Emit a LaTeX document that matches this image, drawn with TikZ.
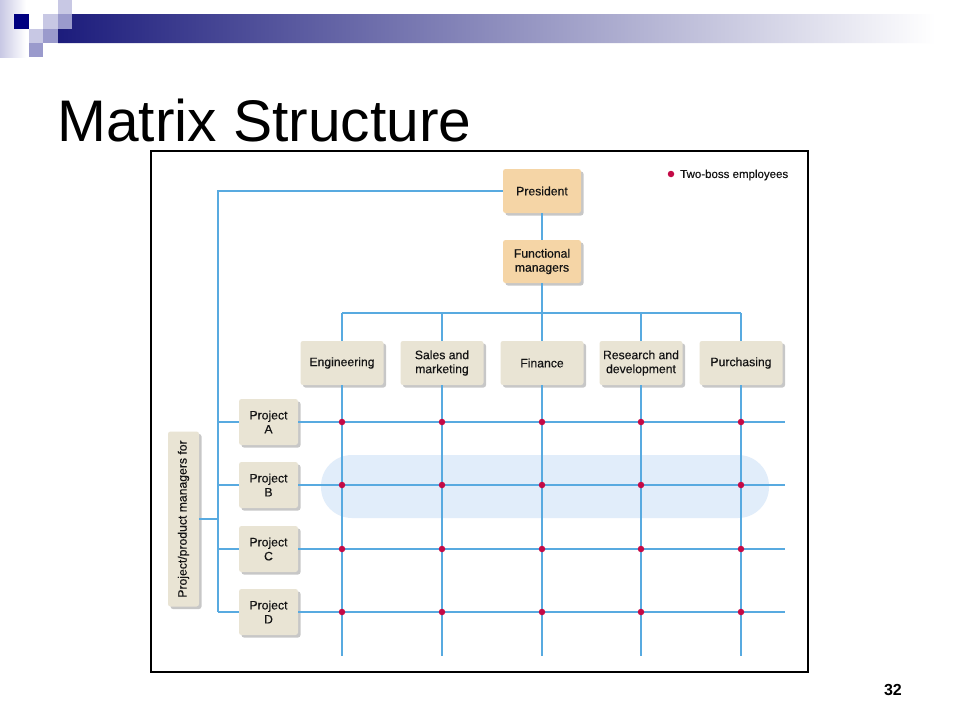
\documentclass[tikz,border=0pt]{standalone}
\usepackage{fontspec}
\setmainfont{Liberation Sans}
\newfontfamily\boxfont[FakeBold=0.35]{Liberation Sans}
\usetikzlibrary{shadows}
\definecolor{linec}{RGB}{88,170,224}
\definecolor{dotc}{RGB}{196,10,70}
\definecolor{beige}{RGB}{233,228,212}
\definecolor{peach}{RGB}{245,213,166}
\definecolor{bandc}{RGB}{225,237,250}
\definecolor{navy}{RGB}{0,0,128}
\definecolor{lavl}{RGB}{200,200,228}
\definecolor{lavm}{RGB}{154,154,204}
\definecolor{barl}{RGB}{28,28,124}
\definecolor{barm}{RGB}{165,165,188}
\definecolor{txt}{RGB}{20,20,20}
\tikzset{
  box/.style={rectangle, rounded corners=2.5pt, fill=beige, text=txt, align=center,
    inner sep=1pt, font=\boxfont\fontsize{12.2}{14}\selectfont,
    drop shadow={shadow xshift=2.5pt, shadow yshift=-2.5pt, fill=black, opacity=0.22}},
  funcbox/.style={box, minimum width=83pt, minimum height=44pt},
  projbox/.style={box, minimum width=59pt, minimum height=46pt},
  topbox/.style={box, fill=peach, minimum width=78pt, minimum height=44pt},
  wire/.style={draw=linec, line width=1.4pt},
  twoboss/.style={circle, fill=dotc, inner sep=0pt, minimum size=6.5pt},
}
\begin{document}
\begin{tikzpicture}[x=1pt,y=-1pt]
\useasboundingbox (0,0) rectangle (960,720);
\fill[white] (0,0) rectangle (960,720);
% top decoration
\shade[left color=lavl, right color=white] (0,0) rectangle (26,57);
\shade[left color=barl, middle color=barm, right color=white]
  (72,14) -- (935,14) -- (935,43) -- (58,43) -- (58,29) -- (72,29) -- cycle;
\fill[navy] (14,14) rectangle (29,29);
\fill[lavl] (58,0) rectangle (72,14);
\fill[lavl] (43,14) rectangle (58,29);
\fill[lavl] (29,29) rectangle (43,43);
\fill[lavm] (58,14) rectangle (72,29);
\fill[lavm] (43,29) rectangle (58,43);
\fill[lavm] (29,43) rectangle (43,57);
% title
\node[anchor=base west, inner sep=0pt, font=\fontsize{58.7}{60}\selectfont] (title) at (57,141) {Matrix Structure};
% page number
\node[anchor=base east, inner sep=0pt, font=\fontsize{16}{18}\selectfont\bfseries] (pagenum) at (902,695) {32};
% frame
\draw[black, line width=1.2pt] (151,151) rectangle (808,672);
% highlight band
\fill[bandc, rounded corners=31pt] (321,455) rectangle (769,518);
% nodes
\node[topbox] (pres) at (542,191) {President};
\node[topbox, minimum height=43pt] (fm) at (542,261.5) {Functional\\managers};
\node[funcbox] (eng) at (342,363) {Engineering};
\node[funcbox] (sal) at (442,363) {Sales and\\marketing};
\node[funcbox] (fin) at (542,363) {Finance};
\node[funcbox] (rnd) at (641,363) {Research and\\development};
\node[funcbox] (pur) at (741,363) {Purchasing};
\node[projbox] (pa) at (268.5,422) {Project\\A};
\node[projbox] (pb) at (268.5,485) {Project\\B};
\node[projbox] (pc) at (268.5,549) {Project\\C};
\node[projbox] (pd) at (268.5,612) {Project\\D};
\node[box, minimum width=31pt, minimum height=175pt] (pm) at (183.5,519) {\rotatebox{90}{Project/product managers for}};
% coordinates
\coordinate (bustop) at (218,191);
\coordinate (busbot) at (218,612);
\coordinate (hbusl) at (342,313);
\coordinate (hbusr) at (741,313);
\coordinate (fmbus) at (542,313);
\coordinate (pmj) at (218,519);
\foreach \c/\x in {eng/342,sal/442,fin/542,rnd/641,pur/741}{
  \coordinate (\c top) at (\x,313);
  \coordinate (\c end) at (\x,656);
}
\foreach \p/\y in {pa/422,pb/485,pc/549,pd/612}{
  \coordinate (\p l) at (218,\y);
  \coordinate (\p r) at (785,\y);
}
% wires
\draw[wire] (pres.west) -- (bustop) -- (busbot);
\draw[wire] (pres.south) -- (fm.north);
\draw[wire] (fm.south) -- (fmbus);
\draw[wire] (hbusl) -- (hbusr);
\draw[wire] (pm.east) -- (pmj);
\foreach \c in {eng,sal,fin,rnd,pur}{
  \draw[wire] (\c top) -- (\c.north);
  \draw[wire] (\c.south) -- (\c end);
}
\foreach \p in {pa,pb,pc,pd}{
  \draw[wire] (\p l) -- (\p.west);
  \draw[wire] (\p.east) -- (\p r);
}
% two-boss dots
\foreach \x in {342,442,542,641,741}{
  \foreach \y in {422,485,549,612}{
    \node[twoboss] at (\x,\y) {};
  }
}
% legend
\node[twoboss] (legdot) at (671,174) {};
\node[anchor=west, inner sep=0pt, text=txt, font=\boxfont\fontsize{11.5}{13}\selectfont] (legtxt) at (680,175) {Two-boss employees};
\end{tikzpicture}
\end{document}
